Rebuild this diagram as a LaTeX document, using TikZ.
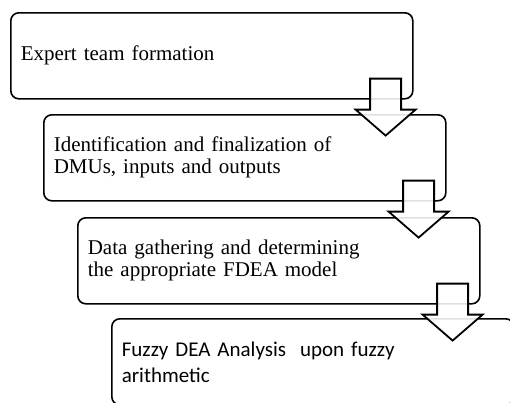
\documentclass[tikz,border=0pt]{standalone}
\usepackage{fontspec}
\setmainfont{Liberation Serif}
\newfontfamily\calibrifont{Carlito}
\usetikzlibrary{calc}

\newcommand{\stagearrow}[1]{%
  \draw[flowarrow] (#1) ++(-15.5,0) -- ++(31,0) -- ++(0,-31) -- ++(14.5,0)
    -- ++(-30,-26) -- ++(-30,26) -- ++(14.5,0) -- cycle;}

\begin{document}
\begin{tikzpicture}[x=1pt, y=1pt,
  stage/.style = {draw, line width=1.6pt, rounded corners=8pt, anchor=north west,
    minimum width=402pt, minimum height=86pt, text width=382pt, inner sep=10pt,
    align=left, font=\fontsize{21}{22}\selectfont},
  flowarrow/.style = {draw, line width=1.8pt, fill=white, fill opacity=0.88, line join=miter}]
\useasboundingbox (0,0) rectangle (510,-402);
\clip (0,0) rectangle (510,-402);
\node[stage] (b1) at (10,-12) {Expert team formation};
\node[stage] (b2) at (43,-114) {Identification and finalization of\\DMUs, inputs and outputs};
\node[stage] (b3) at (77,-217) {Data gathering and determining\\the appropriate FDEA model};
\node[stage, font=\calibrifont\fontsize{21}{26}\selectfont] (b4) at (111,-318)
  {Fuzzy DEA Analysis \ upon fuzzy\\arithmetic};
% arrows between the stages
\coordinate (t1) at ($(b1.south east)+(-28,21)$);
\coordinate (t2) at ($(b2.south east)+(-28,21)$);
\coordinate (t3) at ($(b3.south east)+(-28,21)$);
\stagearrow{t1}
\stagearrow{t2}
\stagearrow{t3}
\end{tikzpicture}
\end{document}
